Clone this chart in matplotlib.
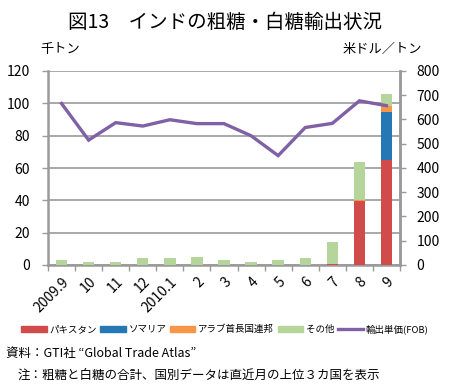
import matplotlib
matplotlib.use("Agg")
import matplotlib.pyplot as plt
import numpy as np
from matplotlib.lines import Line2D
from matplotlib.patches import Patch

plt.rcParams['font.family'] = ['Noto Sans CJK JP', 'DejaVu Sans']

months = ["2009.9", "10", "11", "12", "2010.1", "2", "3", "4", "5", "6", "7", "8", "9"]
pakistan = [0, 0, 0, 0, 0, 0, 0, 0, 0, 0, 0.7, 39.3, 65.0]
somalia = [0, 0, 0, 0, 0, 0, 0, 0, 0, 0, 0, 0, 29.8]
uae = [0, 0, 0, 0, 0, 0, 0, 0, 0, 0, 0, 1.2, 3.7]
other = [3.3, 1.6, 1.6, 4.1, 4.1, 4.7, 3.3, 1.6, 3.3, 4.3, 13.3, 23.5, 7.2]
price = [666, 515, 587, 573, 599, 583, 583, 533, 451, 567, 584, 677, 657]

c_pak = "#D24B4B"
c_som = "#2479B4"
c_uae = "#F79646"
c_oth = "#B6D59A"
c_line = "#8060A6"
grid_c = "#9A9A9A"

fig = plt.figure(figsize=(4.49, 3.91), dpi=100)
ax = fig.add_axes([48/449, 1-265/391, 352/449, 194/391])
x = np.arange(len(months))
w = 0.42
b1 = np.array(pakistan)
b2 = b1 + np.array(somalia)
b3 = b2 + np.array(uae)
ax.bar(x, pakistan, w, color=c_pak, zorder=3)
ax.bar(x, somalia, w, bottom=b1, color=c_som, zorder=3)
ax.bar(x, uae, w, bottom=b2, color=c_uae, zorder=3)
ax.bar(x, other, w, bottom=b3, color=c_oth, zorder=3)

ax.set_ylim(0, 120)
ax.set_yticks(range(0, 121, 20))
ax.set_xlim(-0.5, len(months) - 0.5)
ax.set_xticks(x)
ax.set_xticklabels(months, rotation=45, ha='right', rotation_mode='anchor', fontsize=10)
ax.set_xticks(np.arange(-0.5, len(months), 1), minor=True)
ax.tick_params(axis='x', which='major', length=0, pad=7)
ax.tick_params(axis='x', which='minor', length=4, color=grid_c, width=1)
ax.tick_params(axis='y', length=4, color=grid_c, width=1, labelsize=10, pad=9)
ax.yaxis.grid(True, color=grid_c, linewidth=1.2, zorder=0)
ax.set_axisbelow(True)
for s in ['top']:
    ax.spines[s].set_visible(False)
for s in ['left', 'right', 'bottom']:
    ax.spines[s].set_color(grid_c)
    ax.spines[s].set_linewidth(1.8)

ax2 = ax.twinx()
ax2.plot(x, price, color=c_line, linewidth=2.4, zorder=5, solid_joinstyle='miter')
ax2.set_ylim(0, 800)
ax2.set_yticks(range(0, 801, 100))
ax2.tick_params(axis='y', length=4, color=grid_c, width=1, labelsize=10, pad=8)
for s in ['top', 'left', 'bottom']:
    ax2.spines[s].set_visible(False)
ax2.spines['right'].set_color(grid_c)
ax2.spines['right'].set_linewidth(1.8)

fig.text(225/449, 1-22/391, "図13　インドの粗糖・白糖輸出状況", ha='center', va='center', fontsize=14)
fig.text(40/449, 1-49/391, "千トン", ha='left', va='center', fontsize=9.5)
fig.text(422/449, 1-49/391, "米ドル／トン", ha='right', va='center', fontsize=9.5)

handles = [Patch(color=c_pak), Patch(color=c_som), Patch(color=c_uae), Patch(color=c_oth),
           Line2D([0], [0], color=c_line, lw=2.4)]
labels = ["パキスタン", "ソマリア", "アラブ首長国連邦", "その他", "輸出単価(FOB)"]
fig.legend(handles, labels, loc='center', bbox_to_anchor=(225/449, 1-329/391), ncol=5,
           frameon=False, fontsize=6.8, handlelength=2.7, handleheight=0.6, handletextpad=0.3,
           columnspacing=0.35, borderpad=0.1)

fig.text(6/449, 1-353/391, "資料：GTI社 “Global Trade Atlas”", ha='left', va='center', fontsize=9)
fig.text(18/449, 1-375/391, "注：粗糖と白糖の合計、国別データは直近月の上位３カ国を表示", ha='left', va='center', fontsize=9)

fig.savefig("out.png", dpi=100)
